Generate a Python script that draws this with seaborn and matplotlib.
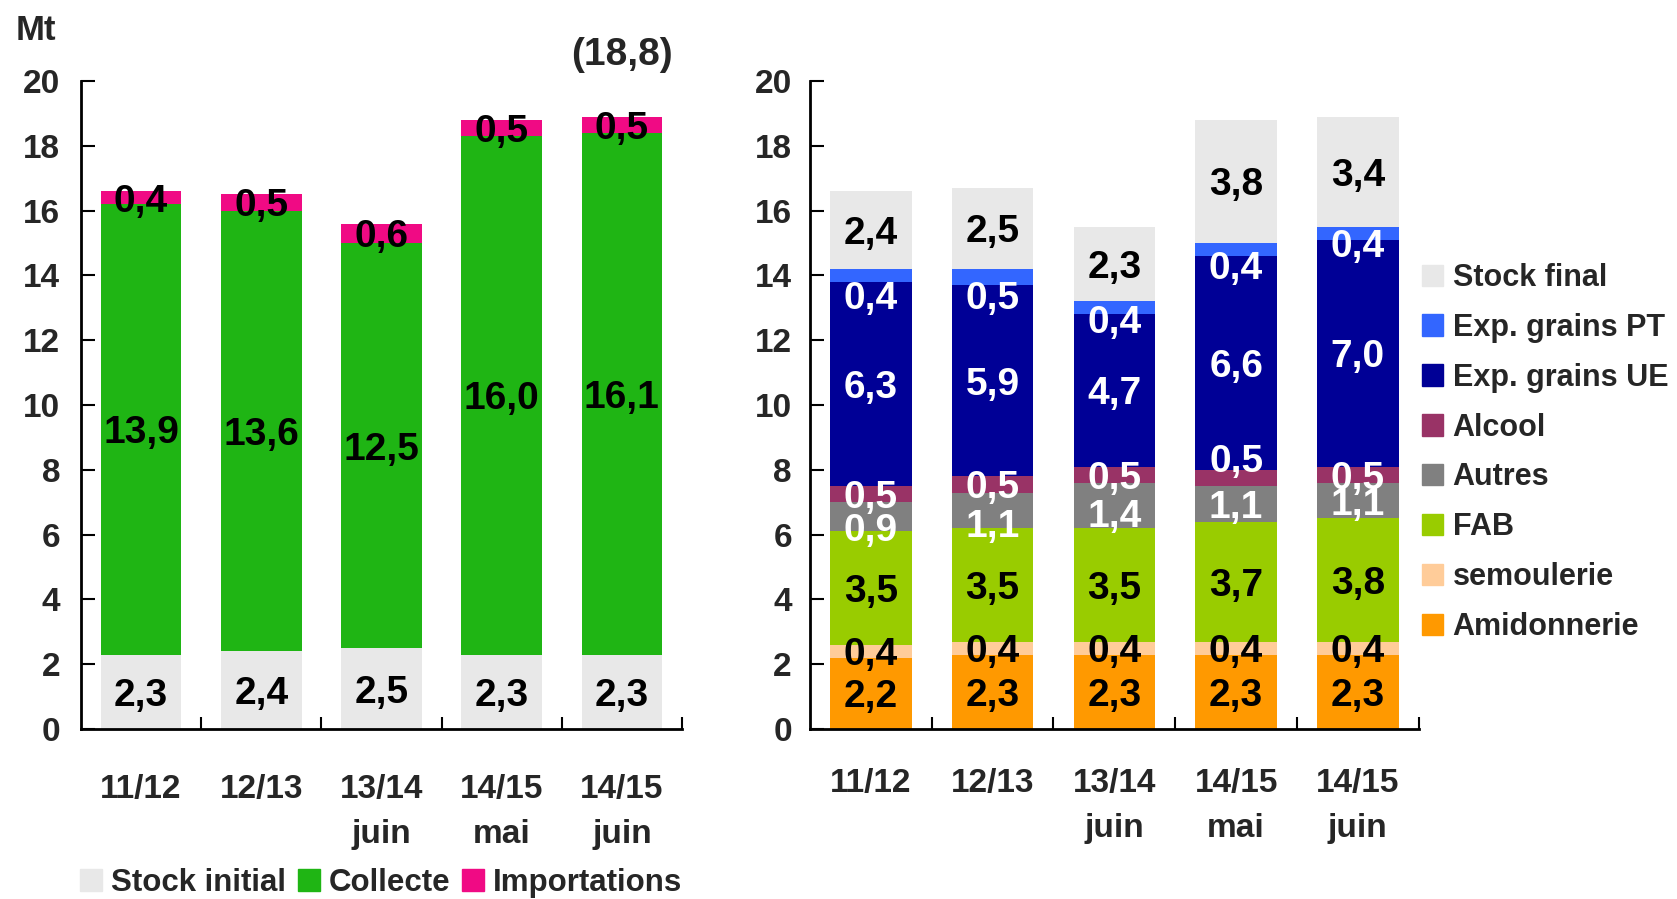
import numpy as np
import pandas as pd
import seaborn as sns
import matplotlib.pyplot as plt
from matplotlib.patches import Patch

campagnes = ['11/12', '12/13', '13/14\njuin', '14/15\nmai', '14/15\njuin']

# ressources (graphique de gauche)
stock_initial = [2.3, 2.4, 2.5, 2.3, 2.3]
collecte = [13.9, 13.6, 12.5, 16.0, 16.1]
importations = [0.4, 0.5, 0.6, 0.5, 0.5]
total_juin = '(18,8)'

# emplois (graphique de droite)
amidonnerie = [2.2, 2.3, 2.3, 2.3, 2.3]
semoulerie = [0.4, 0.4, 0.4, 0.4, 0.4]
fab = [3.5, 3.5, 3.5, 3.7, 3.8]
autres = [0.9, 1.1, 1.4, 1.1, 1.1]
alcool = [0.5, 0.5, 0.5, 0.5, 0.5]
exp_ue = [6.3, 5.9, 4.7, 6.6, 7.0]
exp_pt = [0.4, 0.5, 0.4, 0.4, 0.4]
stock_final = [2.4, 2.5, 2.3, 3.8, 3.4]

# petits decalages des etiquettes (comme dans l'original)
nudge_pt = [-0.6, -0.57, -0.35, -0.48, -0.3]
nudge_autres = [-0.3, -0.38, -0.23, 0, 0]
nudge_alcool = [0, 0, 0, 0.6, 0]
zero = [0, 0, 0, 0, 0]

gauche = [
    ('Stock initial', stock_initial, '#e8e8e8', 'black', zero),
    ('Collecte', collecte, '#1fb514', 'black', zero),
    ('Importations', importations, '#f00a84', 'black', zero),
]
droite = [
    ('Amidonnerie', amidonnerie, '#ff9900', 'black', zero),
    ('semoulerie', semoulerie, '#ffcc99', 'black', zero),
    ('FAB', fab, '#99cc00', 'black', zero),
    ('Autres', autres, '#808080', 'white', nudge_autres),
    ('Alcool', alcool, '#993366', 'white', nudge_alcool),
    ('Exp. grains UE', exp_ue, '#000096', 'white', zero),
    ('Exp. grains PT', exp_pt, '#3366ff', 'white', nudge_pt),
    ('Stock final', stock_final, '#e8e8e8', 'black', zero),
]

sns.set_theme(style='white')
plt.rcParams['font.family'] = ['Liberation Sans', 'DejaVu Sans']
plt.rcParams['font.weight'] = 'bold'


def fmt(v):
    return f'{v:.1f}'.replace('.', ',')


def empile(ax, series, size):
    cums = np.cumsum([s[1] for s in series], axis=0)
    # on dessine les cumuls du plus haut au plus bas
    for k in range(len(series) - 1, -1, -1):
        sns.barplot(x=campagnes, y=cums[k], color=series[k][2], width=0.67,
                    saturation=1, errorbar=None, linewidth=0, ax=ax)
    for k, (name, vals, col, tcol, nud) in enumerate(series):
        for i, v in enumerate(vals):
            base = cums[k][i] - v
            ax.text(i, base + v / 2 + nud[i], fmt(v), ha='center',
                    va='center_baseline', fontsize=size, color=tcol,
                    fontweight='bold')
    ax.set_ylim(0, 20)
    ax.set_xlim(-0.5, 4.5)
    ax.set_yticks(range(0, 21, 2))
    ax.set_xlabel('')
    ax.set_ylabel('')
    ax.set_xticks([0.5, 1.5, 2.5, 3.5, 4.5], minor=True)
    ax.tick_params(axis='x', which='minor', direction='in', length=9,
                   width=1.5, color='black', bottom=True)
    ax.tick_params(axis='y', direction='in', length=10, width=1.5,
                   color='black', left=True, labelsize=24)
    for sp in ['top', 'right']:
        ax.spines[sp].set_visible(False)
    for sp in ['left', 'bottom']:
        ax.spines[sp].set_color('black')
        ax.spines[sp].set_linewidth(2)
    for t in ax.get_yticklabels():
        t.set_fontweight('bold')
    for t in ax.get_xticklabels():
        t.set_fontweight('bold')
        t.set_linespacing(1.6)


fig = plt.figure(figsize=(16.77, 8.99), dpi=100)
ax1 = fig.add_axes([0.0483, 0.189, 0.3584, 0.721])
ax2 = fig.add_axes([0.483, 0.189, 0.363, 0.721])

empile(ax1, gauche, 28)
empile(ax2, droite, 28)

ax1.tick_params(axis='x', which='major', length=0, pad=32, labelsize=24)
ax1.tick_params(axis='y', pad=15)
ax2.tick_params(axis='x', which='major', length=0, pad=28, labelsize=24)
ax2.tick_params(axis='y', pad=13)

ax1.text(4, 20.8, total_juin, ha='center', va='center', fontsize=28,
         fontweight='bold', clip_on=False)
fig.text(16 / 1677, 1 - 31 / 899, 'Mt', ha='left', va='center',
         fontsize=25, fontweight='bold')

h1 = [Patch(color=c, label=n) for n, _, c, _, _ in gauche]
ax1.legend(handles=h1, loc='upper left', ncol=3, frameon=False,
           bbox_to_anchor=(80 / 1677, 1 - 868 / 899),
           bbox_transform=fig.transFigure, fontsize=22.5, borderpad=0,
           borderaxespad=0, handlelength=0.7, handleheight=0.7,
           handletextpad=0.28, columnspacing=0.39)

h2 = [Patch(color=c, label=n) for n, _, c, _, _ in reversed(droite)]
ax2.legend(handles=h2, loc='upper left', frameon=False,
           bbox_to_anchor=(1422 / 1677, 1 - 263 / 899),
           bbox_transform=fig.transFigure, fontsize=22, borderpad=0,
           borderaxespad=0, handlelength=0.7, handleheight=0.7,
           handletextpad=0.3, labelspacing=0.65)

fig.savefig('out.png', dpi=100)
